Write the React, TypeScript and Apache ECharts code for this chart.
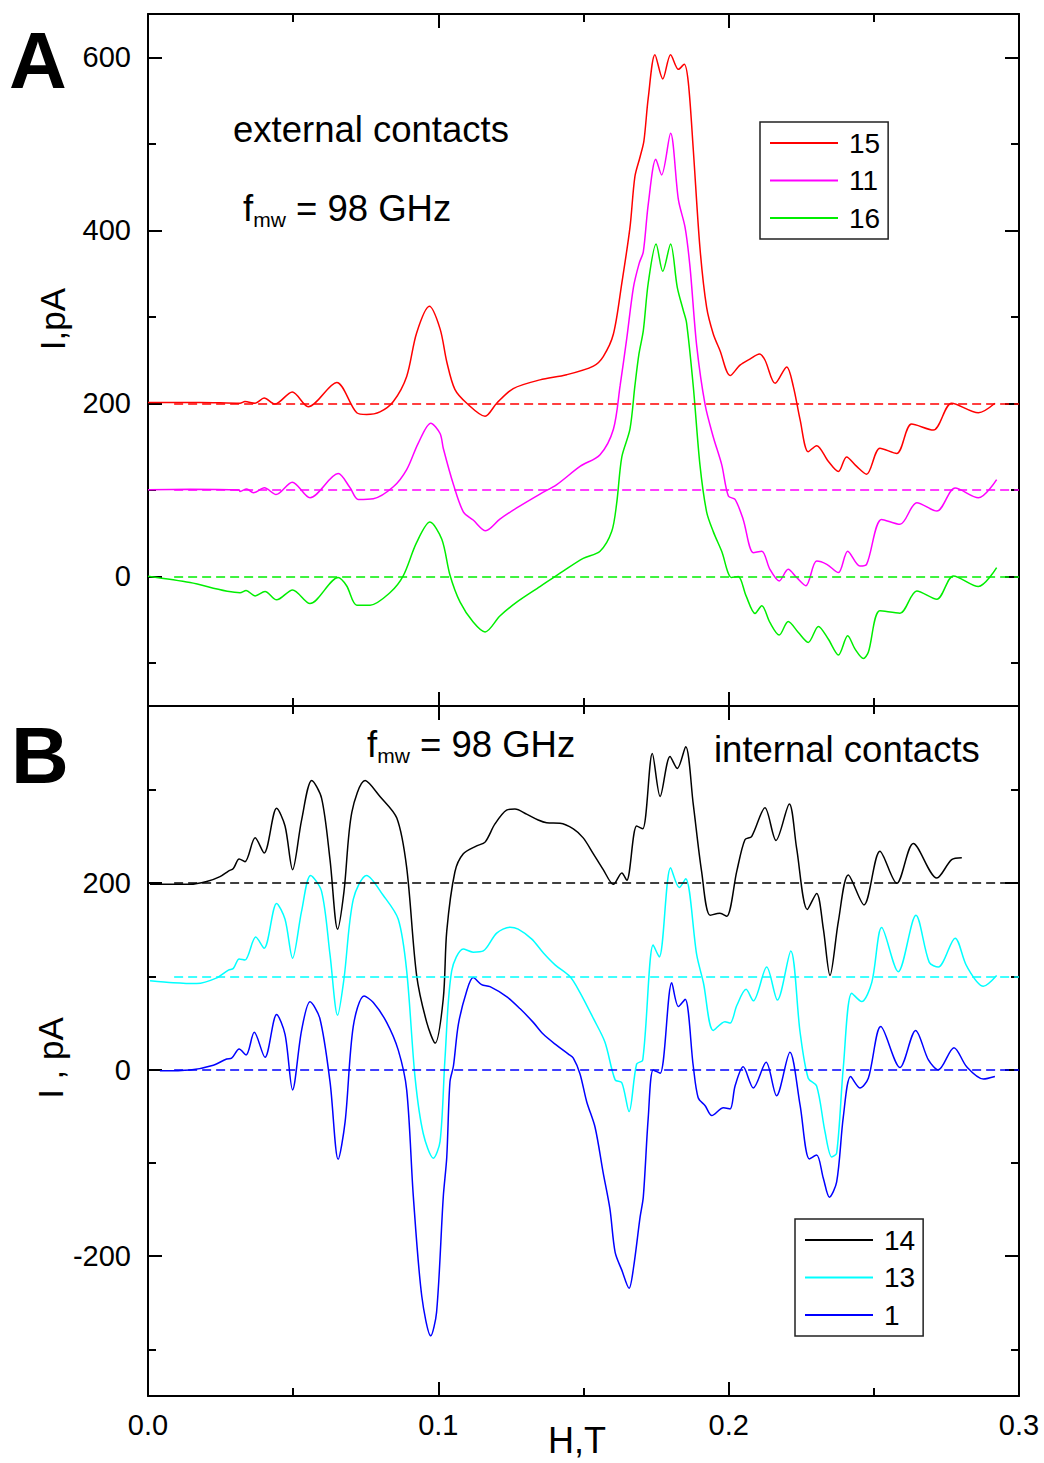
import React, { useEffect, useRef } from "react";
import * as echarts from "echarts";

const FONT = "Liberation Sans, Arial, Helvetica, sans-serif";

// Axis ranges and tick values
const H_MIN = 0;
const H_MAX = 0.3;
const H_INTERVAL = 0.1;
const I_A_MIN = -150;
const I_A_MAX = 650;
const I_B_MIN = -350;
const I_B_MAX = 390;
const Y_A_MAJOR = [0, 200, 400, 600];
const Y_A_MINOR = [-100, 100, 300, 500];
const Y_B_MAJOR = [-200, 0, 200];
const Y_B_MINOR = [-300, -100, 100, 300];

// Panel A (external contacts): [H (T), I (pA)]
const curve15: number[][] = [
  [0, 201], [0.0179, 201], [0.0317, 200], [0.0334, 202], [0.0369, 200], [0.04, 206], [0.0437, 199],
  [0.0497, 213], [0.0552, 196], [0.065, 224], [0.0719, 189], [0.0753, 187], [0.0799, 190], [0.0845, 202],
  [0.0891, 231], [0.0925, 281], [0.0969, 312], [0.1006, 286], [0.1029, 248], [0.1057, 216], [0.1098, 200],
  [0.1161, 185], [0.1201, 200], [0.1258, 217], [0.135, 227], [0.1442, 233], [0.1534, 243], [0.1568, 254],
  [0.1603, 280], [0.1632, 339], [0.166, 403], [0.1677, 462], [0.1695, 485], [0.1708, 503], [0.1723, 553],
  [0.1746, 603], [0.1773, 575], [0.18, 603], [0.1827, 586], [0.1847, 592], [0.1861, 571], [0.1878, 494],
  [0.1901, 380], [0.1924, 311], [0.1947, 280], [0.197, 261], [0.2005, 232], [0.2039, 244], [0.2073, 251],
  [0.2106, 257], [0.2125, 250], [0.216, 223], [0.22, 242], [0.2223, 219], [0.2246, 181], [0.2274, 144],
  [0.2303, 151], [0.2343, 133], [0.2378, 121], [0.2406, 138], [0.2441, 127], [0.2475, 118], [0.2521, 148],
  [0.2579, 142], [0.263, 176], [0.2705, 169], [0.2768, 200], [0.286, 189], [0.2917, 200],
];

const curve11: number[][] = [
  [0, 100], [0.0145, 100.5], [0.0314, 99.6], [0.0317, 98], [0.034, 101], [0.0363, 96.5], [0.0401, 102.3],
  [0.0441, 94.5], [0.0497, 108.7], [0.0558, 90.7], [0.0655, 118.7], [0.0696, 102.3], [0.0724, 88.8],
  [0.0776, 89.6], [0.0845, 103.4], [0.0891, 123.3], [0.0931, 154], [0.0974, 177], [0.1006, 165],
  [0.1017, 148], [0.1052, 106], [0.1086, 74.5], [0.112, 65], [0.1163, 52.6], [0.1212, 66], [0.127, 79],
  [0.135, 95], [0.1408, 106], [0.1488, 127], [0.1557, 140.6], [0.1603, 170], [0.1626, 220], [0.1649, 275],
  [0.1672, 334], [0.1692, 362], [0.1706, 375], [0.1723, 430], [0.1749, 482], [0.1769, 464], [0.18, 512],
  [0.1827, 435], [0.185, 403], [0.1867, 357], [0.189, 266], [0.1919, 198], [0.1947, 161], [0.1976, 129],
  [0.1999, 92.7], [0.2022, 88.8], [0.205, 65.7], [0.2085, 27.3], [0.2114, 29], [0.2142, 8], [0.2174, -5.4],
  [0.2205, 8], [0.2234, -1.5], [0.2266, -11], [0.2303, 17.6], [0.2338, 13.8], [0.2378, 4.2], [0.241, 29],
  [0.2452, 11.9], [0.2475, 13.8], [0.2527, 65.7], [0.259, 60], [0.2648, 85], [0.2717, 75.3], [0.278, 102],
  [0.286, 90.7], [0.2923, 111.8],
];

const curve16: number[][] = [
  [0, 0], [0.0145, -7.3], [0.0317, -19], [0.0338, -16.5], [0.0369, -22.7], [0.0403, -17.7], [0.0443, -27.3],
  [0.0498, -15.8], [0.0558, -31.5], [0.0655, -1.5], [0.0684, -11], [0.0719, -33.4], [0.0765, -33.4],
  [0.0834, -18.8], [0.0879, 0.4], [0.0925, 38.8], [0.0971, 62.6], [0.1012, 42.7], [0.104, 1.5], [0.1075, -30],
  [0.112, -53], [0.1161, -64.5], [0.1212, -46], [0.127, -30], [0.135, -12], [0.143, 6], [0.1499, 20.7],
  [0.1557, 28.9], [0.1597, 51.6], [0.1614, 83.6], [0.1632, 138], [0.166, 170], [0.1677, 220], [0.1691, 257],
  [0.1706, 284], [0.1723, 339], [0.175, 384], [0.1773, 352.5], [0.18, 384], [0.1823, 334], [0.1844, 307],
  [0.1855, 293], [0.1878, 220], [0.1901, 129], [0.1924, 74.5], [0.1947, 51.6], [0.1976, 28.8], [0.201, -1.5],
  [0.2033, -0.4], [0.206, -22.7], [0.2091, -43], [0.2114, -34], [0.2142, -53.4], [0.2174, -68], [0.2205, -52.3],
  [0.224, -65], [0.2274, -76.5], [0.2309, -58], [0.2343, -72.6], [0.2378, -91], [0.241, -68.8], [0.2435, -84],
  [0.2464, -95], [0.2481, -88], [0.2521, -40], [0.259, -42.7], [0.2648, -17], [0.2717, -26.5], [0.2774, 0.4],
  [0.286, -11.9], [0.2923, 10],
];

// Panel B (internal contacts)
const curve14: number[][] = [
  [0.0007, 198.7], [0.0145, 198.7], [0.0202, 201.7], [0.0248, 207], [0.0277, 213], [0.0294, 215.7],
  [0.0314, 226], [0.0334, 223], [0.0369, 248.6], [0.04, 232.4], [0.0443, 280.4], [0.0472, 261.3],
  [0.0498, 214.5], [0.0529, 267.7], [0.0564, 310.2], [0.0598, 291], [0.0627, 225], [0.0653, 150.7],
  [0.0675, 191], [0.0702, 276], [0.0748, 310], [0.0799, 293], [0.0857, 269.8], [0.0891, 216.6],
  [0.0925, 101.7], [0.096, 50.7], [0.0989, 28.5], [0.1017, 76], [0.1029, 148.5], [0.1057, 212],
  [0.1086, 231.5], [0.1132, 240], [0.1161, 244], [0.1195, 263.5], [0.1235, 278.4], [0.1264, 279.6],
  [0.1304, 274], [0.1344, 267.7], [0.1373, 264.8], [0.1419, 264.3], [0.1465, 258.3], [0.1499, 248.6],
  [0.1534, 231.5], [0.1568, 214.5], [0.1603, 198.7], [0.1632, 211], [0.1649, 203], [0.1683, 261.3],
  [0.1704, 258.3], [0.1737, 339], [0.1764, 293], [0.1798, 335.8], [0.1823, 323], [0.1852, 346.4],
  [0.1878, 284.7], [0.1907, 212], [0.1936, 165.6], [0.197, 167.7], [0.1993, 164.4], [0.2028, 212.9],
  [0.2056, 246.6], [0.2079, 250], [0.2125, 280.8], [0.2163, 245.8], [0.2209, 285], [0.2234, 237.6],
  [0.2271, 171.8], [0.2303, 189], [0.2326, 151.2], [0.2349, 101], [0.2378, 159.4], [0.2412, 208.8],
  [0.2466, 176.7], [0.2521, 234.3], [0.2579, 199.8], [0.2636, 242.6], [0.2717, 205.5], [0.2768, 225.2],
  [0.2803, 227.3],
];

const curve13: number[][] = [
  [0.0007, 95.3], [0.0087, 93.2], [0.0168, 92.3], [0.0237, 98.4], [0.0277, 106.8], [0.0294, 108.6],
  [0.0314, 118.8], [0.0334, 117.6], [0.0371, 142.2], [0.04, 130.3], [0.0443, 178.3], [0.0472, 161.3],
  [0.0498, 119.6], [0.0529, 170], [0.056, 208.3], [0.0598, 191], [0.0627, 123], [0.0653, 58.3],
  [0.0675, 97.5], [0.0707, 182.6], [0.0753, 208.3], [0.081, 187], [0.0862, 161.3], [0.0891, 106],
  [0.092, -8.9], [0.0948, -68.5], [0.0983, -95], [0.1006, -77], [0.1023, 12.3], [0.1046, 106],
  [0.1086, 129.4], [0.112, 126], [0.1155, 127.3], [0.1201, 146.4], [0.1247, 152.8], [0.1275, 150.7],
  [0.1322, 140], [0.1362, 125.1], [0.1402, 112.4], [0.1454, 99.6], [0.1488, 82.6], [0.1534, 54.9],
  [0.1574, 29.4], [0.1609, -11], [0.1632, -14], [0.1657, -45], [0.1683, 6], [0.1704, 10.3], [0.174, 133.6],
  [0.1761, 120.8], [0.18, 216.6], [0.183, 195.4], [0.1852, 204.7], [0.189, 123], [0.1913, 93.2],
  [0.1947, 42.1], [0.1987, 51.5], [0.2005, 49.9], [0.2028, 68.8], [0.206, 86.1], [0.2085, 73.8],
  [0.2131, 110], [0.2168, 74.6], [0.2214, 127.3], [0.2246, 40.1], [0.2274, -9.3], [0.2303, -17.6],
  [0.2332, -66.9], [0.2355, -93.6], [0.2372, -89.5], [0.2395, 3], [0.2424, 82], [0.2458, 73],
  [0.2493, 93.6], [0.2527, 152.4], [0.2584, 105], [0.2645, 165.6], [0.2691, 115], [0.2722, 110],
  [0.278, 141], [0.282, 110.9], [0.2877, 89.4], [0.2923, 101],
];

const curve1: number[][] = [
  [0.0041, -1.3], [0.0145, -0.4], [0.0225, 4.7], [0.0271, 11.5], [0.0288, 12.3], [0.0314, 22.2],
  [0.0338, 15.8], [0.0366, 40], [0.0403, 13.2], [0.0443, 59.2], [0.0472, 37.9], [0.0498, -21.7],
  [0.0529, 42.1], [0.0558, 72.8], [0.0592, 54.9], [0.0627, -13.2], [0.0655, -96.2], [0.0679, -55.8],
  [0.0707, 46.4], [0.0744, 79.1], [0.0776, 72], [0.0822, 50.7], [0.0862, 20.9], [0.0891, -21.7],
  [0.0914, -136.5], [0.0943, -243], [0.0974, -285.5], [0.0994, -260], [0.1017, -136.5], [0.1029, -94],
  [0.104, -13.2], [0.1052, 3.9], [0.1069, 48.6], [0.1098, 84.7], [0.112, 98.8], [0.1149, 91.2],
  [0.1178, 89], [0.1235, 78.3], [0.1281, 65.5], [0.1327, 50.7], [0.1362, 37.9], [0.1408, 26],
  [0.1448, 16.6], [0.1465, 12.3], [0.1488, -4.6], [0.1511, -34.4], [0.154, -62], [0.1568, -111],
  [0.1591, -149.4], [0.1609, -196], [0.1632, -215], [0.1657, -234.4], [0.1672, -213], [0.1695, -158],
  [0.1706, -136.5], [0.1723, -51.5], [0.174, -0.4], [0.1764, -3.8], [0.1804, 93.2], [0.1827, 67.7],
  [0.185, 75.4], [0.1878, 3.9], [0.1895, -30.1], [0.1919, -38.7], [0.1942, -49.3], [0.1982, -40.9],
  [0.2005, -42.1], [0.2022, -17.6], [0.205, 3], [0.2085, -19.6], [0.2129, 7.9], [0.2165, -27.9],
  [0.2211, 18.7], [0.2246, -38], [0.2278, -95.8], [0.2303, -91.6], [0.2326, -116.4], [0.2347, -136.8],
  [0.2372, -120.4], [0.2395, -50.4], [0.242, -7.3], [0.2452, -19.6], [0.2481, -9.3], [0.2524, 46.2],
  [0.259, 2.3], [0.2644, 42.1], [0.2688, 10.4], [0.2722, -0.2], [0.2776, 23.6], [0.282, 3],
  [0.2877, -10], [0.2917, -7.3],
];

const NAMES_A = ["15", "11", "16"];
const NAMES_B = ["14", "13", "1"];
const BASELINES_A = [200, 100, 0];
const BASELINES_B = [200, 100, 0];
const COLORS_A = ["#ff0000", "#ff00ff", "#00ee00"];
const COLORS_B = ["#000000", "#00ffff", "#0000ff"];
const DASH_START = 0.009;

export default function App() {
  const ref = useRef<HTMLDivElement>(null);

  useEffect(() => {
    document.body.style.margin = "0";
    if (!ref.current) return;
    const chart = echarts.init(ref.current, undefined, { renderer: "svg" });

    const axisLineStyle = { color: "#000", width: 2 };
    const labelStyle = { fontSize: 29, color: "#000", fontFamily: FONT };

    const xAxisFor = (gridIndex: number, position: string, showLabels: boolean) => ({
      type: "value",
      gridIndex,
      position,
      min: H_MIN,
      max: H_MAX,
      interval: H_INTERVAL,
      axisLine: { show: true, onZero: false, lineStyle: axisLineStyle },
      axisTick: { show: true, inside: true, length: 14, lineStyle: axisLineStyle },
      minorTick: { show: true, splitNumber: 2, length: 8, lineStyle: axisLineStyle },
      axisLabel: {
        show: showLabels,
        margin: 14,
        ...labelStyle,
        formatter: (v: number) => v.toFixed(1),
      },
      splitLine: { show: false },
      minorSplitLine: { show: false },
    });

    const yAxisFor = (
      gridIndex: number,
      position: string,
      min: number,
      max: number,
      values: number[],
      length: number,
      showLabels: boolean,
      showLine: boolean
    ) => ({
      type: "value",
      gridIndex,
      position,
      min,
      max,
      axisLine: { show: showLine, onZero: false, lineStyle: axisLineStyle },
      axisTick: { show: true, inside: true, length, customValues: values, lineStyle: axisLineStyle },
      axisLabel: { show: showLabels, customValues: values, margin: 17, ...labelStyle },
      splitLine: { show: false },
    });

    const makeSeries = (
      name: string,
      data: number[][],
      color: string,
      base: number,
      xIdx: number,
      yIdx: number
    ) => ({
      name,
      type: "line",
      xAxisIndex: xIdx,
      yAxisIndex: yIdx,
      data,
      showSymbol: false,
      symbol: "none",
      smooth: 0.3,
      lineStyle: { color, width: 1.5 },
      itemStyle: { color },
      markLine: {
        silent: true,
        symbol: "none",
        label: { show: false },
        lineStyle: { color, width: 1.5, type: [9, 5] },
        data: [[{ coord: [DASH_START, base] }, { coord: [H_MAX, base] }]],
      },
    });

    const dataA = [curve15, curve11, curve16];
    const dataB = [curve14, curve13, curve1];

    const series = [
      ...NAMES_A.map((n, i) => makeSeries(n, dataA[i], COLORS_A[i], BASELINES_A[i], 0, 0)),
      ...NAMES_B.map((n, i) => makeSeries(n, dataB[i], COLORS_B[i], BASELINES_B[i], 2, 4)),
    ];

    const legendFor = (data: string[], left: number, top: number) => ({
      data,
      left,
      top,
      orient: "vertical",
      icon: "rect",
      itemWidth: 68,
      itemHeight: 2,
      itemGap: 9.5,
      padding: [7, 8, 7, 10],
      borderColor: "#222",
      borderWidth: 1.5,
      backgroundColor: "#fff",
      selectedMode: false,
      textStyle: { fontSize: 28, color: "#000", fontFamily: FONT, lineHeight: 28, padding: [0, 0, 0, 6] },
    });

    const txt = (text: string, x: number, y: number, size: number, extra: any = {}) => ({
      type: "text",
      x,
      y,
      ...extra.el,
      style: {
        text,
        fontSize: size,
        fontFamily: FONT,
        fill: "#000",
        align: "left",
        verticalAlign: "middle",
        ...(extra.style || {}),
      },
    });

    const fmwRich = {
      a: { fontSize: 36.5, fontFamily: FONT, lineHeight: 40, verticalAlign: "top", color: "#000" },
      b: { fontSize: 21, fontFamily: FONT, lineHeight: 21, padding: [29, 0, 0, 0], verticalAlign: "bottom", color: "#000" },
    };

    const option: any = {
      animation: false,
      backgroundColor: "#fff",
      grid: [
        { left: 148, top: 14, width: 871, height: 692 },
        { left: 148, top: 706, width: 871, height: 690 },
      ],
      xAxis: [
        xAxisFor(0, "bottom", false),
        xAxisFor(0, "top", false),
        xAxisFor(1, "bottom", true),
        xAxisFor(1, "top", false),
      ],
      yAxis: [
        yAxisFor(0, "left", I_A_MIN, I_A_MAX, Y_A_MAJOR, 14, true, true),
        yAxisFor(0, "left", I_A_MIN, I_A_MAX, Y_A_MINOR, 8, false, false),
        yAxisFor(0, "right", I_A_MIN, I_A_MAX, Y_A_MAJOR, 14, false, true),
        yAxisFor(0, "right", I_A_MIN, I_A_MAX, Y_A_MINOR, 8, false, false),
        yAxisFor(1, "left", I_B_MIN, I_B_MAX, Y_B_MAJOR, 14, true, true),
        yAxisFor(1, "left", I_B_MIN, I_B_MAX, Y_B_MINOR, 8, false, false),
        yAxisFor(1, "right", I_B_MIN, I_B_MAX, Y_B_MAJOR, 14, false, true),
        yAxisFor(1, "right", I_B_MIN, I_B_MAX, Y_B_MINOR, 8, false, false),
      ],
      legend: [legendFor(NAMES_A, 760, 122), legendFor(NAMES_B, 795, 1219)],
      series,
      graphic: [
        txt("A", 9, 60, 80, { style: { fontWeight: "bold" } }),
        txt("B", 11, 755, 80, { style: { fontWeight: "bold" } }),
        txt("external contacts", 233, 129.5, 36.5),
        {
          type: "text",
          x: 243,
          y: 189.5,
          style: { text: "{a|f}{b|mw}{a| = 98 GHz}", rich: fmwRich, align: "left", verticalAlign: "top" },
        },
        {
          type: "text",
          x: 367,
          y: 725.5,
          style: { text: "{a|f}{b|mw}{a| = 98 GHz}", rich: fmwRich, align: "left", verticalAlign: "top" },
        },
        txt("internal contacts", 714, 749.5, 36.5),
        txt("I,pA", 52, 319, 35, { el: { rotation: Math.PI / 2 }, style: { align: "center" } }),
        txt("I , pA", 50, 1058, 35, { el: { rotation: Math.PI / 2 }, style: { align: "center" } }),
        txt("H,T", 577, 1440, 36, { style: { align: "center" } }),
      ],
    };

    chart.setOption(option);
    return () => chart.dispose();
  }, []);

  return (
    <div
      ref={ref}
      style={{ position: "fixed", left: 0, top: 0, width: 1044, height: 1463, background: "#fff" }}
    />
  );
}
